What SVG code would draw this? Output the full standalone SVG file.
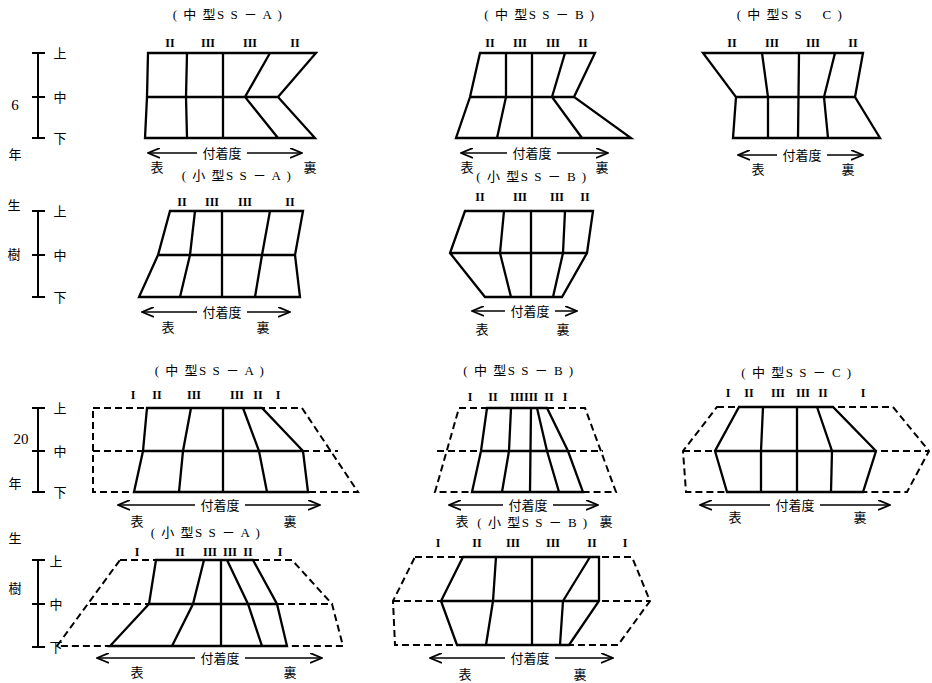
<svg xmlns="http://www.w3.org/2000/svg" width="932" height="683" viewBox="0 0 932 683">
<defs>
<marker id="ah" viewBox="0 0 13 11" markerWidth="13" markerHeight="11" refX="12" refY="5.5" orient="auto-start-reverse" markerUnits="userSpaceOnUse">
<path d="M0,0.5 L12,5.5 L0,10.5" fill="none" stroke="#000" stroke-width="1.8"/>
</marker>
<style>
.s{fill:none;stroke:#000;stroke-width:2.3;stroke-linejoin:miter}
.d{fill:none;stroke:#000;stroke-width:2;stroke-dasharray:7 4}
.ax{fill:none;stroke:#000;stroke-width:2}
.ar{fill:none;stroke:#000;stroke-width:1.6}
.t{font-family:"Liberation Serif","Noto Sans CJK JP",serif;font-size:13px;fill:#000}
.h{letter-spacing:1.5px}
.n{font-size:15px}
.c{text-anchor:middle}
.r{font-family:"Liberation Serif",serif;font-size:12px;font-weight:bold;text-anchor:middle;fill:#000}
.bg{fill:#fff}
</style>
</defs>
<rect width="932" height="683" fill="#fff"/>

<!-- axes -->
<g id="axis-6yr">
<path class="ax" d="M38,53 V138 M32,53 H45 M32,97 H45 M32,138 H45 M32,211 H45 M38,211 V297 M32,255 H45 M32,297 H45"/>
<text class="t c" x="60" y="58">上</text><text class="t c" x="60" y="102">中</text><text class="t c" x="60" y="143">下</text>
<text class="t c n" x="15" y="110">6</text><text class="t c" x="15" y="159">年</text>
<text class="t c" x="14" y="210">生</text><text class="t c" x="14" y="259">樹</text>
<text class="t c" x="60" y="216">上</text><text class="t c" x="60" y="260">中</text><text class="t c" x="60" y="302">下</text>
</g>
<g id="axis-20yr">
<path class="ax" d="M38,408 V492 M32,408 H45 M32,451 H45 M32,492 H45 M38,560 V647 M32,560 H45 M32,604 H45 M32,647 H45"/>
<text class="t c" x="60" y="413">上</text><text class="t c" x="60" y="456">中</text><text class="t c" x="60" y="497">下</text>
<text class="t c n" x="21" y="444">20</text><text class="t c" x="15" y="488">年</text>
<text class="t c" x="15" y="543">生</text><text class="t c" x="15" y="593">樹</text>
<text class="t c" x="56" y="566">上</text><text class="t c" x="56" y="609">中</text><text class="t c" x="56" y="652">下</text>
</g>

<!-- Panel 1 -->
<g id="p1-mid-A-6">
<text class="t c h" x="228" y="19">( 中 型S S － A )</text>
<text class="r" x="170" y="47">II</text><text class="r" x="208" y="47">III</text><text class="r" x="250" y="47">III</text><text class="r" x="295" y="47">II</text>
<path class="s" d="M148,53 L316,53 L278,97 L315,138 L145,138 L147,97 Z M147,97 L278,97 M187,53 L186,97 L187,138 M223,53 L223,138 M270,53 L245,97 L278,138"/>
<line class="ar" x1="148" y1="153" x2="302" y2="153" marker-start="url(#ah)" marker-end="url(#ah)"/>
<rect class="bg" x="197" y="145" width="50" height="16"/>
<text class="t c" x="222" y="158">付着度</text>
<text class="t c" x="157" y="172">表</text><text class="t c" x="310" y="172">裏</text>
</g>

<!-- Panel 2 -->
<g id="p2-small-A-6">
<text class="t c h" x="237" y="180">( 小 型S S － A )</text>
<text class="r" x="182" y="206">II</text><text class="r" x="212" y="206">III</text><text class="r" x="245" y="206">III</text><text class="r" x="290" y="206">II</text>
<path class="s" d="M170,211 L303,211 L295,255 L300,297 L139,297 L158,255 Z M158,255 L295,255 M195,211 L190,255 L180,297 M222,211 L222,297 M270,211 L262,255 L255,297"/>
<line class="ar" x1="142" y1="312" x2="290" y2="312" marker-start="url(#ah)" marker-end="url(#ah)"/>
<rect class="bg" x="197" y="304" width="50" height="16"/>
<text class="t c" x="222" y="317">付着度</text>
<text class="t c" x="168" y="332">表</text><text class="t c" x="263" y="332">裏</text>
</g>

<!-- Panel 3 -->
<g id="p3-mid-B-6">
<text class="t c h" x="540" y="19">( 中 型S S － B )</text>
<text class="r" x="490" y="47">II</text><text class="r" x="520" y="47">III</text><text class="r" x="553" y="47">III</text><text class="r" x="583" y="47">II</text>
<path class="s" d="M480,53 L595,53 L574,97 L631,138 L456,138 L470,97 Z M470,97 L574,97 M506,53 L506,97 L497,138 M532,53 L532,138 M565,53 L552,97 L582,138"/>
<line class="ar" x1="461" y1="153" x2="608" y2="153" marker-start="url(#ah)" marker-end="url(#ah)"/>
<rect class="bg" x="507" y="145" width="50" height="16"/>
<text class="t c" x="532" y="158">付着度</text>
<text class="t c" x="467" y="172">表</text><text class="t c" x="602" y="172">裏</text>
</g>

<!-- Panel 4 -->
<g id="p4-small-B-6">
<text class="t c h" x="532" y="181">( 小 型S S － B )</text>
<text class="r" x="480" y="201">II</text><text class="r" x="520" y="201">III</text><text class="r" x="557" y="201">III</text><text class="r" x="585" y="201">II</text>
<path class="s" d="M465,211 L593,211 L587,253 L562,297 L485,297 L450,253 Z M450,253 L587,253 M504,211 L500,253 L511,297 M531,211 L531,297 M565,211 L563,253 L553,297"/>
<line class="ar" x1="472" y1="311" x2="577" y2="311" marker-start="url(#ah)" marker-end="url(#ah)"/>
<rect class="bg" x="505" y="303" width="50" height="16"/>
<text class="t c" x="530" y="316">付着度</text>
<text class="t c" x="482" y="334">表</text><text class="t c" x="563" y="334">裏</text>
</g>

<!-- Panel 5 -->
<g id="p5-mid-C-6">
<text class="t c h" x="790" y="19">( 中 型S S　 C )</text>
<text class="r" x="732" y="47">II</text><text class="r" x="772" y="47">III</text><text class="r" x="813" y="47">III</text><text class="r" x="853" y="47">II</text>
<path class="s" d="M703,53 L863,53 L855,97 L880,138 L733,138 L736,97 Z M736,97 L855,97 M762,53 L768,97 L768,138 M799,53 L798,138 M835,53 L824,97 L828,138"/>
<line class="ar" x1="738" y1="155" x2="863" y2="155" marker-start="url(#ah)" marker-end="url(#ah)"/>
<rect class="bg" x="777" y="147" width="50" height="16"/>
<text class="t c" x="802" y="160">付着度</text>
<text class="t c" x="758" y="174">表</text><text class="t c" x="848" y="174">裏</text>
</g>

<!-- Panel 6 -->
<g id="p6-mid-A-20">
<text class="t c h" x="210" y="375">( 中 型S S － A )</text>
<text class="r" x="133" y="399">I</text><text class="r" x="157" y="399">II</text><text class="r" x="194" y="399">III</text><text class="r" x="237" y="399">III</text><text class="r" x="258" y="399">II</text><text class="r" x="278" y="399">I</text>
<path class="d" d="M93,408 L302,408 L358,492 L93,492 Z M93,451 L338,451"/>
<path class="s" d="M147,408 L262,408 L303,451 L308,492 L134,492 L143,451 Z M143,451 L303,451 M191,408 L183,451 L179,492 M223,408 L223,492 M243,408 L259,451 L267,492"/>
<line class="ar" x1="118" y1="505" x2="320" y2="505" marker-start="url(#ah)" marker-end="url(#ah)"/>
<rect class="bg" x="195" y="497" width="50" height="16"/>
<text class="t c" x="220" y="510">付着度</text>
<text class="t c" x="137" y="526">表</text><text class="t c" x="290" y="526">裏</text>
</g>

<!-- Panel 7 -->
<g id="p7-mid-B-20">
<text class="t c h" x="519" y="375">( 中 型S S － B )</text>
<text class="r" x="470" y="401">I</text><text class="r" x="493" y="401">II</text><text class="r" x="517" y="401">III</text><text class="r" x="531" y="401">III</text><text class="r" x="549" y="401">II</text><text class="r" x="565" y="401">I</text>
<path class="d" d="M459,408 L585,408 L616,492 L435,492 Z M437,451 L603,451"/>
<path class="s" d="M487,408 L547,408 L568,451 L583,492 L472,492 L481,451 Z M481,451 L568,451 M511,408 L509,451 L502,492 M531,408 L530,492 M537,408 L547,451 L559,492"/>
<line class="ar" x1="449" y1="505" x2="598" y2="505" marker-start="url(#ah)" marker-end="url(#ah)"/>
<rect class="bg" x="503" y="497" width="50" height="16"/>
<text class="t c" x="528" y="510">付着度</text>
<text class="t c" x="462" y="526">表</text><text class="t c" x="606" y="526">裏</text>
</g>

<!-- Panel 8 -->
<g id="p8-mid-C-20">
<text class="t c h" x="797" y="377">( 中 型S S － C )</text>
<text class="r" x="728" y="397">I</text><text class="r" x="749" y="397">II</text><text class="r" x="778" y="397">III</text><text class="r" x="803" y="397">III</text><text class="r" x="823" y="397">II</text><text class="r" x="863" y="397">I</text>
<path class="d" d="M717,407 L893,407 L929,451 L907,492 L686,492 L683,451 Z M683,451 L929,451"/>
<path class="s" d="M739,407 L833,407 L876,451 L863,492 L727,492 L715,451 Z M715,451 L876,451 M763,407 L761,451 L761,492 M797,407 L797,492 M817,407 L832,451 L831,492"/>
<line class="ar" x1="700" y1="505" x2="890" y2="505" marker-start="url(#ah)" marker-end="url(#ah)"/>
<rect class="bg" x="770" y="497" width="50" height="16"/>
<text class="t c" x="795" y="510">付着度</text>
<text class="t c" x="735" y="522">表</text><text class="t c" x="860" y="522">裏</text>
</g>

<!-- Panel 9 -->
<g id="p9-small-A-20">
<text class="t c h" x="206" y="537">( 小 型S S － A )</text>
<text class="r" x="137" y="556">I</text><text class="r" x="180" y="556">II</text><text class="r" x="210" y="556">III</text><text class="r" x="230" y="556">III</text><text class="r" x="248" y="556">II</text><text class="r" x="280" y="556">I</text>
<path class="d" d="M120,560 L292,560 L332,604 L343,646 L57,646 Z M90,604 L333,604"/>
<path class="s" d="M156,560 L253,560 L277,604 L287,646 L110,646 L149,604 Z M149,604 L277,604 M204,560 L193,604 L172,646 M221,560 L221,646 M227,560 L248,604 L262,646"/>
<line class="ar" x1="97" y1="658" x2="322" y2="658" marker-start="url(#ah)" marker-end="url(#ah)"/>
<rect class="bg" x="195" y="650" width="50" height="16"/>
<text class="t c" x="220" y="663">付着度</text>
<text class="t c" x="137" y="677">表</text><text class="t c" x="290" y="677">裏</text>
</g>

<!-- Panel 10 -->
<g id="p10-small-B-20">
<text class="t c h" x="533" y="527">( 小 型S S － B )</text>
<text class="r" x="438" y="547">I</text><text class="r" x="477" y="547">II</text><text class="r" x="513" y="547">III</text><text class="r" x="553" y="547">III</text><text class="r" x="592" y="547">II</text><text class="r" x="625" y="547">I</text>
<path class="d" d="M415,557 L632,557 L650,601 L618,645 L395,645 L393,601 Z M393,601 L650,601"/>
<path class="s" d="M463,557 L599,557 L599,601 L569,645 L457,645 L441,601 Z M441,601 L599,601 M496,557 L493,601 L486,645 M532,557 L532,645 M590,557 L563,601 L560,645"/>
<line class="ar" x1="430" y1="658" x2="613" y2="658" marker-start="url(#ah)" marker-end="url(#ah)"/>
<rect class="bg" x="505" y="650" width="50" height="16"/>
<text class="t c" x="530" y="663">付着度</text>
<text class="t c" x="465" y="679">表</text><text class="t c" x="580" y="679">裏</text>
</g>
</svg>
